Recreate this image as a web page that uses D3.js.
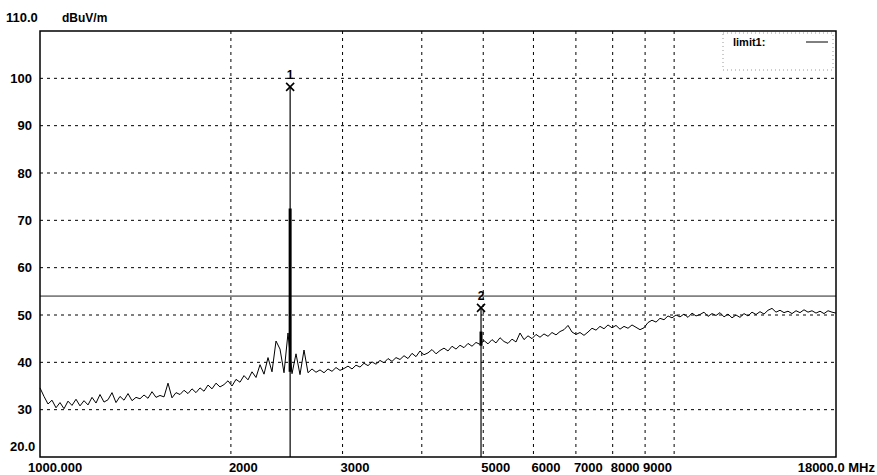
<!DOCTYPE html>
<meta charset="utf-8">
<style>
    body { margin: 0; background: #fff; }
    text { font-family: "Liberation Sans", Arial, sans-serif; font-weight: bold; fill: #000; }
    .grid line { stroke: #000; stroke-width: 1; stroke-dasharray: 3,4; }
    .trace { fill: none; stroke: #000; stroke-width: 1; }
</style>
<svg width="877" height="475"></svg>
<script src="https://cdn.jsdelivr.net/npm/d3@7"></script>
<script>

    var startFreq = 1000, stopFreq = 18000;
    var level = [
        34.6, 32.8, 31.2, 32.0, 30.4, 31.5, 30.2, 31.8, 30.9, 32.2,
        30.8, 31.9, 31.0, 32.6, 31.4, 33.2, 31.6, 32.1, 33.6, 31.5,
        32.8, 32.0, 33.4, 31.9, 32.6, 32.3, 33.1, 32.4, 33.8, 32.6,
        33.0, 32.7, 35.6, 32.5, 33.6, 33.2, 34.1, 33.4, 34.4, 33.6,
        34.6, 33.9, 35.2, 34.4, 35.6, 34.8, 35.3, 36.1, 35.0, 36.4,
        35.8, 37.2, 36.3, 38.0, 36.8, 39.5, 37.5, 41.0, 38.0, 44.5,
        42.8, 37.8, 46.2, 37.6, 41.8, 37.4, 42.6, 37.8, 38.6, 37.9,
        38.4, 37.8, 38.6, 38.1, 38.9, 38.3, 38.7, 39.2, 38.6, 39.4,
        39.0, 39.8, 39.3, 40.1, 39.6, 40.4, 39.9, 40.8, 40.2, 41.0,
        40.6, 41.4, 40.8, 41.9, 41.2, 42.4, 41.6, 42.0, 42.7, 41.8,
        42.5, 43.0, 42.4, 43.4, 42.8, 43.6, 43.1, 44.0, 43.4, 44.2,
        43.8, 44.6, 43.9, 44.8, 44.1, 45.2, 44.4, 44.0, 44.9, 44.3,
        46.2, 44.8, 45.6, 45.0, 45.9, 45.3, 46.0, 45.5, 46.3, 45.8,
        46.5, 46.9, 47.8, 46.4, 45.9, 46.3, 45.7, 46.4, 47.2, 46.8,
        47.6, 47.1, 47.9, 47.3, 47.8, 47.0, 47.6, 47.2, 47.9, 47.4,
        46.9, 47.3, 48.4, 48.9, 48.5, 49.3, 49.0, 49.8, 49.4, 50.0,
        49.6, 50.2, 49.5, 50.4, 49.8, 50.1, 50.6, 49.7, 50.3, 49.9,
        50.5, 49.6, 50.2, 49.4, 50.0, 49.5, 50.3, 49.8, 50.6, 50.1,
        50.7, 50.2, 51.0, 51.4, 50.6, 51.0, 50.5, 50.8, 50.3, 50.9,
        50.5, 51.1, 50.6, 50.9, 50.4, 50.8, 50.3, 50.9, 50.6, 50.4
    ];

    // markers and the carrier / harmonic spikes
    var markerLabel = ["1", "2"];
    var markerFreq = [2480, 4960];
    var markerLevel = [98.2, 51.5];
    var spikeTop = [72.5, 46.5];
    var spikeBottom = [38.0, 43.5];

    var limitLevel = 54;
    var yTicks = [30, 40, 50, 60, 70, 80, 90, 100];
    var xGrid = [2000, 3000, 4000, 5000, 6000, 7000, 8000, 9000, 10000];
    var xLabels = [2000, 3000, 5000, 6000, 7000, 8000, 9000];

    var svg = d3.select("svg"),
        margin = {top: 31, right: 41, bottom: 18, left: 40},
        width = svg.attr("width") - margin.left - margin.right,
        height = svg.attr("height") - margin.top - margin.bottom,
        g = svg.append("g").attr("transform", "translate(" + margin.left + "," + margin.top + ")");

    var x = d3.scaleLog().domain([startFreq, stopFreq]).range([0, width]),
        y = d3.scaleLinear().domain([20, 110]).range([height, 0]);

    var sweep = d3.scaleLinear().domain([0, level.length - 1]).range([0, width]);

    // grid
    g.append("g").attr("class", "grid")
        .selectAll("line").data(yTicks).enter().append("line")
        .attr("x1", 0).attr("x2", width)
        .attr("y1", function(d) { return y(d); }).attr("y2", function(d) { return y(d); });

    g.append("g").attr("class", "grid")
        .selectAll("line").data(xGrid).enter().append("line")
        .attr("y1", 0).attr("y2", height)
        .attr("x1", function(d) { return x(d); }).attr("x2", function(d) { return x(d); });

    // legend box (covers the grid)
    g.append("rect")
        .attr("x", 683).attr("y", 2).attr("width", 110).attr("height", 37)
        .attr("fill", "#fff").attr("stroke", "#999").attr("stroke-dasharray", "1,3");
    g.append("text").attr("x", 693).attr("y", 15).style("font-size", "11px").text("limit1:");
    g.append("line").attr("x1", 766).attr("x2", 788).attr("y1", 11).attr("y2", 11)
        .attr("stroke", "#000");

    // limit
    g.append("line")
        .attr("x1", 0).attr("x2", width)
        .attr("y1", y(limitLevel)).attr("y2", y(limitLevel))
        .attr("stroke", "#222").attr("stroke-width", 1);

    // trace
    var line = d3.line()
        .x(function(d, i) { return sweep(i); })
        .y(function(d) { return y(d); });

    g.append("path").datum(level).attr("class", "trace").attr("d", line);

    // spikes and markers
    markerFreq.forEach(function(f, i) {
        var mx = x(f), my = y(markerLevel[i]);
        g.append("line")
            .attr("x1", mx).attr("x2", mx)
            .attr("y1", my).attr("y2", height)
            .attr("stroke", "#000").attr("stroke-width", 1.2);
        g.append("line")
            .attr("x1", mx).attr("x2", mx)
            .attr("y1", y(spikeTop[i])).attr("y2", y(spikeBottom[i]))
            .attr("stroke", "#000").attr("stroke-width", 3);
        g.append("path")
            .attr("d", "M" + (mx - 4) + "," + (my - 4) + "L" + (mx + 4) + "," + (my + 4) +
                       "M" + (mx - 4) + "," + (my + 4) + "L" + (mx + 4) + "," + (my - 4))
            .attr("stroke", "#000").attr("stroke-width", 1.6);
        g.append("text")
            .attr("x", mx).attr("y", my - 8)
            .attr("text-anchor", "middle").style("font-size", "12px")
            .text(markerLabel[i]);
    });

    // frame
    g.append("rect")
        .attr("width", width).attr("height", height)
        .attr("fill", "none").attr("stroke", "#000").attr("stroke-width", 1.5);

    // y labels
    g.selectAll(".ylab").data(yTicks).enter().append("text")
        .attr("x", -8).attr("y", function(d) { return y(d); })
        .attr("dy", "0.35em").attr("text-anchor", "end")
        .style("font-size", "13px")
        .text(function(d) { return d; });

    svg.append("text").attr("x", 6).attr("y", 22).style("font-size", "13px").text("110.0");
    svg.append("text").attr("x", 62).attr("y", 22).style("font-size", "12px").text("dBuV/m");
    svg.append("text").attr("x", 10).attr("y", 451).style("font-size", "13px").text("20.0");

    // x labels
    g.selectAll(".xlab").data(xLabels).enter().append("text")
        .attr("x", function(d) { return x(d) - 2; }).attr("y", height + 15)
        .style("font-size", "13px")
        .text(function(d) { return d; });

    svg.append("text").attr("x", 28).attr("y", margin.top + height + 15)
        .style("font-size", "13px").text("1000.000");
    svg.append("text").attr("x", 875).attr("y", margin.top + height + 15)
        .attr("text-anchor", "end").style("font-size", "13px").text("18000.0 MHz");

</script>
